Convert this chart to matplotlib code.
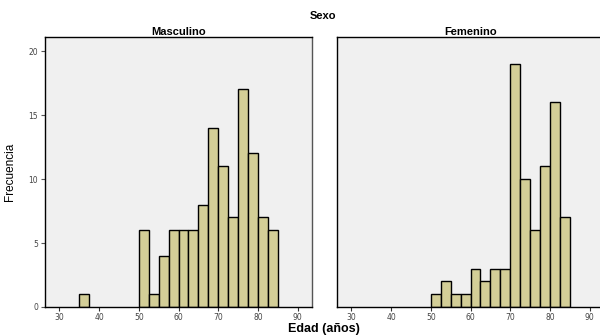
import matplotlib.pyplot as plt
import numpy as np

plt.rcParams['font.family'] = ['Liberation Sans', 'DejaVu Sans']

# bin edges (width 2.5 years) and counts
bin_left = [35, 37.5, 40, 42.5, 45, 47.5, 50, 52.5, 55, 57.5, 60, 62.5,
            65, 67.5, 70, 72.5, 75, 77.5, 80, 82.5]
masculino = [1, 0, 0, 0, 0, 0, 6, 1, 4, 6, 6, 6, 8, 14, 11, 7, 17, 12, 7, 6]
femenino = [0, 0, 0, 0, 0, 0, 1, 2, 1, 1, 3, 2, 3, 3, 19, 10, 6, 11, 16, 7]
paneles = ["Masculino", "Femenino"]
xticks = [30, 40, 50, 60, 70, 80, 90]
yticks = [0, 5, 10, 15, 20]

BAR = '#d3ce97'
BG = '#f0f0f0'
W, H = 600, 336

fig = plt.figure(figsize=(6, 3.36), dpi=100)
fig.patch.set_facecolor('white')

boxes = [(45, 37, 267, 270), (337, 37, 267, 270)]
for i, (name, counts) in enumerate(zip(paneles, [masculino, femenino])):
    x0, y0, w, h = boxes[i]
    ax = fig.add_axes([x0 / W, 1 - (y0 + h) / H, w / W, h / H])
    ax.set_facecolor(BG)
    sel = [(b, c) for b, c in zip(bin_left, counts) if c > 0]
    ax.bar([b for b, c in sel], [c for b, c in sel], width=2.5, align='edge',
           color=BAR, edgecolor='black', linewidth=1.0)
    ax.set_xlim(26.4, 93.6)
    ax.set_ylim(0, 21.1)
    ax.set_xticks(xticks)
    ax.tick_params(axis='x', labelsize=5.5, length=3, width=0.8, pad=1.5,
                   labelcolor='#444444', color='#333333')
    for lb in ax.get_xticklabels():
        lb.set_family('DejaVu Sans')
    if i == 0:
        ax.set_yticks(yticks)
        ax.tick_params(axis='y', labelsize=5.5, length=3, width=0.8, pad=2,
                       labelcolor='#444444', color='#555555')
        for lb in ax.get_yticklabels():
            lb.set_family('DejaVu Sans')
        ax.spines['right'].set_color('#555555')
        ax.set_ylabel('Frecuencia', fontsize=8.5,
                      family=['Liberation Sans Narrow', 'Liberation Sans'],
                      labelpad=9)
    else:
        ax.set_yticks([])
    for s in ax.spines.values():
        s.set_linewidth(1.0)
    ax.set_title(name, fontsize=8, fontweight='bold', pad=1.5)

fig.text(323 / W, 1 - 16 / H, 'Sexo', ha='center', va='center',
         fontsize=8, fontweight='bold')
fig.text(324 / W, 1 - 329 / H, 'Edad (años)', ha='center', va='center',
         fontsize=9, fontweight='bold')

fig.savefig('out.png', dpi=100)
